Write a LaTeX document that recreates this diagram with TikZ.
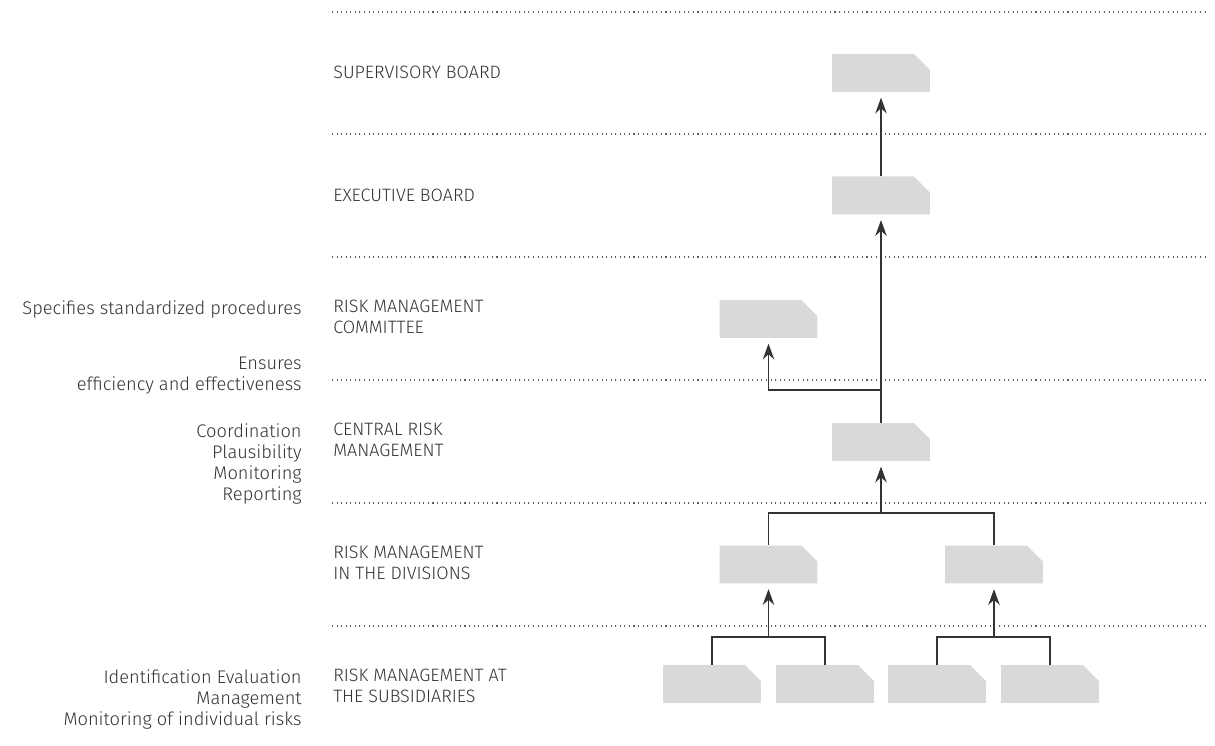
\documentclass[tikz,border=0pt]{standalone}
\usepackage{fontspec}
\setmainfont{Fira Sans}[UprightFont=* Light]
\usetikzlibrary{arrows.meta}
\definecolor{boxgray}{HTML}{D9D9D9}
\definecolor{ink}{HTML}{333333}
\definecolor{txt}{HTML}{333333}
\begin{document}
\begin{tikzpicture}[x=0.02cm,y=-0.02cm,
  unitbox/.style={rectangle,draw=none,inner sep=0pt,minimum width=1.96cm,minimum height=0.76cm,
    path picture={\fill[boxgray] (path picture bounding box.south west) -- (path picture bounding box.north west)
      -- ([xshift=-0.32cm]path picture bounding box.north east) -- ([yshift=-0.32cm]path picture bounding box.north east)
      -- (path picture bounding box.south east) -- cycle;}},
  levelrule/.style={dotted,line width=0.6pt,color=ink!80},
  link/.style={draw=ink,line width=0.8pt},
  uparrow/.style={link,-{Stealth[length=9pt,width=6.5pt]},shorten >=3pt},
  levelname/.style={anchor=north west,align=left,inner sep=0pt,text=txt,font=\fontsize{10.2}{12}\selectfont},
  task/.style={anchor=north east,align=right,inner sep=0pt,text=txt,font=\fontsize{10.4}{12}\selectfont}]
\useasboundingbox (0,0) rectangle (1215,746);

% level separators
\foreach \yy in {12,134,257,380,503,626}
  \draw[levelrule] (332,\yy) -- (1205,\yy);

% level names
\node[levelname] (lsup) at (333,66) {SUPERVISORY BOARD};
\node[levelname] (lexe) at (333,189) {EXECUTIVE BOARD};
\node[levelname] (lcom) at (333,300) {RISK MANAGEMENT\\COMMITTEE};
\node[levelname] (lcen) at (333,423) {CENTRAL RISK\\MANAGEMENT};
\node[levelname] (ldiv) at (333,546) {RISK MANAGEMENT\\IN THE DIVISIONS};
\node[levelname] (lsub) at (333,669) {RISK MANAGEMENT AT\\THE SUBSIDIARIES};

% tasks
\node[task] (tcom) at (302,300) {Specifies standardized procedures};
\node[task] (teff) at (302,357) {Ensures\\efficiency and effectiveness};
\node[task] (tcen) at (302,423) {Coordination\\Plausibility\\Monitoring\\Reporting};
\node[task] (tsub) at (302,669) {Identification Evaluation\\Management\\Monitoring of individual risks};

% organisational units
\node[unitbox] (sup) at (881,73) {};
\node[unitbox] (exe) at (881,195.5) {};
\node[unitbox] (com) at (768.5,319) {};
\node[unitbox] (cen) at (881,442) {};
\node[unitbox] (divL) at (768.5,564.5) {};
\node[unitbox] (divR) at (994,564.5) {};
\node[unitbox] (sub1) at (712,684) {};
\node[unitbox] (sub2) at (825,684) {};
\node[unitbox] (sub3) at (937,684) {};
\node[unitbox] (sub4) at (1050,684) {};

% junctions
\coordinate (jcom) at (881,390);
\coordinate (jdiv) at (881,513);
\coordinate (jsL) at (768.5,637);
\coordinate (jsR) at (994,637);

% reporting lines
\draw[uparrow] (exe.north) -- (sup.south);
\draw[uparrow] (cen.north) -- (exe.south);
\draw[uparrow] (jcom) -| (com.south);
\draw[link] (divL.north) |- (jdiv) -| (divR.north);
\draw[uparrow] (jdiv) -- (cen.south);
\draw[link] (sub1.north) |- (jsL) -| (sub2.north);
\draw[uparrow] (jsL) -- (divL.south);
\draw[link] (sub3.north) |- (jsR) -| (sub4.north);
\draw[uparrow] (jsR) -- (divR.south);
\end{tikzpicture}
\end{document}
